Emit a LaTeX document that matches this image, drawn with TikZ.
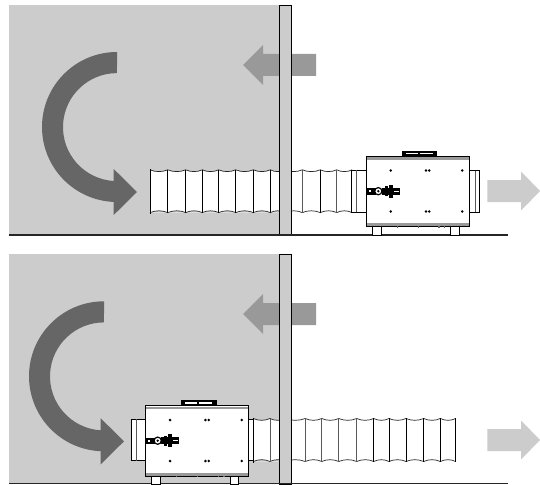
\documentclass[tikz,border=0pt]{standalone}
\tikzset{
  roomfill/.style={fill=black!20,draw=none},
  wallbox/.style={fill=black!20,draw=black,line width=0.9pt},
  floorline/.style={draw=black!85,line cap=butt},
  curvearrow/.style={fill=black!60,draw=none},
  inarrow/.style={fill=black!40,draw=none},
  outarrow/.style={fill=black!20,draw=none},
  ductedge/.style={draw=black!85,line width=0.7pt},
  ductrib/.style={draw=black,line width=0.95pt},
  ductribgrey/.style={draw=black!65,line width=1pt},
  casing/.style={fill=white,draw=black,line width=1pt},
  greyband/.style={fill=black!40,draw=none},
  unitdot/.style={fill=black,draw=none},
  darkpart/.style={fill=black,draw=none},
}
\newcommand{\ductseg}[4]{%
  \fill[white] (#1,#3) rectangle (#2,#4);
  \path[fill=black!20,draw=none] (#1,#3) .. controls ({#1+0.3*(#2-#1)},#3+2.4) and ({#1+0.7*(#2-#1)},#3+2.4) .. (#2,#3) -- cycle;
  \path[fill=black!20,draw=none] (#1,#4) .. controls ({#1+0.3*(#2-#1)},#4-2.4) and ({#1+0.7*(#2-#1)},#4-2.4) .. (#2,#4) -- cycle;
  \draw[ductedge] (#1,#3) .. controls ({#1+0.3*(#2-#1)},#3+2.4) and ({#1+0.7*(#2-#1)},#3+2.4) .. (#2,#3);
  \draw[ductedge] (#1,#4) .. controls ({#1+0.3*(#2-#1)},#4-2.4) and ({#1+0.7*(#2-#1)},#4-2.4) .. (#2,#4);
}
\newcommand{\ductwhiteseg}[4]{%
  \fill[white] (#1,#3) rectangle (#2,#4);
  \draw[ductedge] (#1,#3) .. controls ({#1+0.3*(#2-#1)},#3+2.4) and ({#1+0.7*(#2-#1)},#3+2.4) .. (#2,#3);
  \draw[ductedge] (#1,#4) .. controls ({#1+0.3*(#2-#1)},#4-2.4) and ({#1+0.7*(#2-#1)},#4-2.4) .. (#2,#4);
}
\newcommand{\bigcurve}{%
  \fill[curvearrow] (117,52) arc[start angle=90,end angle=267.5,radius=75pt]
    -- (113.7,215) -- (137,192) -- (113.7,169) -- (113.7,181)
    arc[start angle=266.5,end angle=90,radius=54pt] -- cycle;
}
\newcommand{\inflow}{%
  \fill[inarrow] (316,54) -- (263,54) -- (263,45) -- (243,65) -- (263,85) -- (263,76) -- (316,76) -- cycle;
}
\newcommand{\outflow}{%
  \fill[outarrow] (487.3,180) -- (521,180) -- (521,171.5) -- (540,191) -- (521,210.5) -- (521,202) -- (487.3,202) -- cycle;
}
\newcommand{\unitbody}{%
  % feet
  \draw[casing] (372,226) rectangle (381.3,235);
  \draw[casing] (450.7,226) rectangle (459.3,235);
  % handle
  \fill[darkpart] (401.5,150.8) rectangle (437.2,156.5);
  \fill[white] (406,152.8) rectangle (418,154.4);
  \fill[white] (420,152.8) rectangle (432.5,154.4);
  % body
  \draw[casing] (366.3,156) rectangle (469,226.7);
  \fill[greyband] (366.8,157) rectangle (468.5,159.5);
  \fill[greyband] (366.8,223.2) rectangle (468.5,226.2);
  \foreach \px in {396.7,417.7,438.3,444}{\fill[black!60] (\px,226.2) rectangle (\px+1.2,227.7);}
  \foreach \px in {390.7,426,429.3,462.3}{
    \fill[unitdot] (\px,170.5) circle (1.4pt);
    \fill[unitdot] (\px,211.5) circle (1.4pt);
  }
  % control
  \fill[darkpart] (366.8,188) rectangle (376,194.6);
  \fill[white] (369,190) rectangle (371,192);
  \fill[darkpart] (382,187.6) rectangle (400,194.8);
  \fill[darkpart] (388.8,184.8) rectangle (393,197.5);
  \fill[darkpart] (384.5,186.3) rectangle (388,196.2);
  \fill[white] (394,190.8) rectangle (399,191.4);
  \draw[fill=white,draw=black,line width=1.2pt] (378.3,191.2) circle (3.6pt);
  \fill[black] (378.3,191.2) circle (1.3pt);
}
\begin{document}
\begin{tikzpicture}[x=1pt,y=-1pt]
\useasboundingbox (0,0) rectangle (540,484);
\fill[white] (0,0) rectangle (540,484);
% ---------- upper panel
\fill[roomfill] (9,5) rectangle (279.5,235);
\bigcurve
\inflow
\outflow
\foreach \a/\b in {150/167.7,167.7/185.7,185.7/202.3,202.3/218.7,218.7/235.7,235.7/253.3,253.3/270.3,270.3/285}{
  \ductseg{\a}{\b}{169.8}{212.6}
}
\foreach \a/\b in {285/302.3,302.3/320.3,320.3/336.7,336.7/352}{
  \ductwhiteseg{\a}{\b}{169.8}{212.6}
}
\draw[ductrib] (150,169) -- (150,214);
\foreach \px in {167.7,185.7,202.3,218.7,235.7,253.3,270.3,320.3}{\draw[ductrib] (\px,169.6) -- (\px,212.9);}
\foreach \px in {302.3,336.7}{\draw[ductribgrey] (\px,169.6) -- (\px,212.9);}
\draw[wallbox] (279.5,5) rectangle (291.3,235);
\draw[floorline,line width=1.7pt] (9,235) -- (508,235);
\draw[casing] (351.7,170) rectangle (366.3,212);
\draw[ductribgrey] (356.7,170) -- (356.7,212);
\draw[casing] (469,170.5) rectangle (479.3,212);
\draw[ductribgrey] (475,170.5) -- (475,212);
\unitbody
% ---------- lower panel
\fill[roomfill] (9,254) rectangle (279.5,484);
\begin{scope}[shift={(-13,249.3)}]
\bigcurve
\end{scope}
\begin{scope}[shift={(0,249)}]
\inflow
\end{scope}
\begin{scope}[shift={(0,249)}]
\outflow
\end{scope}
\foreach \a/\b in {253.3/270,270/285}{
  \ductseg{\a}{\b}{418.5}{461.5}
}
\foreach \a/\b in {285/305.3,305.3/321.7,321.7/338.7,338.7/356.7,356.7/373.7,373.7/389,389/406,406/423.7,423.7/440.3,440.3/455.7}{
  \ductwhiteseg{\a}{\b}{418.5}{461.5}
}
\draw[ductrib] (253.3,417.5) -- (253.3,463);
\draw[ductribgrey] (270,418.5) -- (270,461.5);
\foreach \px in {305.3,321.7,338.7,356.7}{\draw[ductribgrey] (\px,418.3) -- (\px,461.8);}
\foreach \px in {373.7,389,406,423.7,440.3,455.7}{\draw[ductrib] (\px,418.3) -- (\px,461.8);}
\draw[wallbox] (279.5,254) rectangle (291.3,484.5);
\draw[floorline,line width=1pt] (9,483.5) -- (508,483.5);
\draw[casing] (131.3,419.3) rectangle (146,460.7);
\draw[ductribgrey] (136.7,419.3) -- (136.7,460.7);
\draw[casing] (248.3,419.3) rectangle (253,460.7);
\begin{scope}[shift={(-220.6,249.5)}]
\unitbody
\end{scope}
\end{tikzpicture}
\end{document}
